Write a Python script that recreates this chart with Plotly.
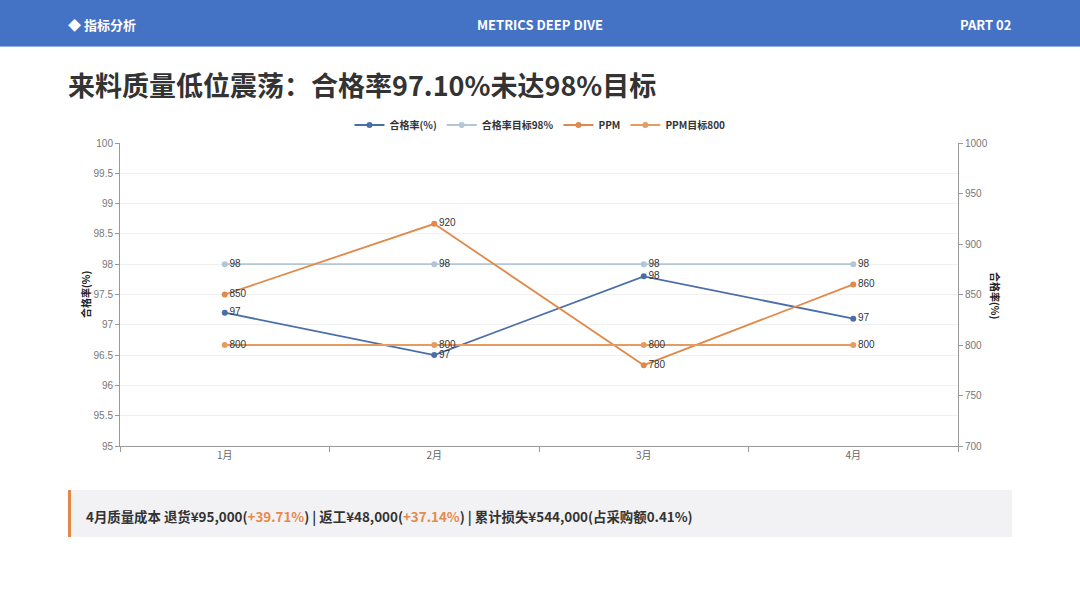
import plotly.graph_objects as go

# chart data
months = ["1月", "2月", "3月", "4月"]
pass_rate = [97.2, 96.5, 97.8, 97.1]
pass_target = [98, 98, 98, 98]
ppm = [850, 920, 780, 860]
ppm_target = [800, 800, 800, 800]

W, H = 1080, 608
FONT = "Noto Sans CJK SC"


def px_x(x):
    return x / W


def px_y(y):
    return 1 - y / H


fig = go.Figure()

series = [
    ("合格率(%)", pass_rate, "y", "#4a6ea8"),
    ("合格率目标98%", pass_target, "y", "#b3c6d6"),
    ("PPM", ppm, "y2", "#e0894a"),
    ("PPM目标800", ppm_target, "y2", "#e69c60"),
]
for name, vals, axis, color in series:
    fig.add_trace(go.Scatter(
        x=months, y=vals, name=name, yaxis=axis,
        mode="lines+markers+text",
        line=dict(color=color, width=1.8),
        marker=dict(color=color, size=6),
        texttemplate="%{y:.0f}", textposition="middle right",
        textfont=dict(size=10, color="#333", family="Liberation Sans"),
        cliponaxis=False,
    ))

fig.update_layout(
    width=W, height=H,
    margin=dict(l=0, r=0, t=0, b=0, pad=0, autoexpand=False),
    paper_bgcolor="white", plot_bgcolor="white",
    font=dict(family=FONT, color="#333"),
    showlegend=True,
    legend=dict(orientation="h", x=0.5, xanchor="center", y=px_y(125), yanchor="middle",
                font=dict(size=10, color="#333", weight="bold"), itemwidth=30,
                tracegroupgap=0),
    xaxis=dict(domain=[px_x(120), px_x(958)], range=[-0.5, 3.5], showgrid=False,
               showline=True, linecolor="#999", ticks="outside", tickson="boundaries",
               ticklen=5, tickcolor="#999",
               tickfont=dict(size=10, color="#666", family=FONT)),
    yaxis=dict(domain=[px_y(446), px_y(143)], range=[95, 100], dtick=0.5,
               showline=True, linecolor="#999", ticks="outside", ticklen=4,
               tickcolor="#999", gridcolor="#f0f0f0", zeroline=False,
               tickfont=dict(size=10, color="#777", family="Liberation Sans")),
    yaxis2=dict(overlaying="y", side="right", range=[700, 1000], dtick=50,
                showline=True, linecolor="#999", ticks="outside", ticklen=4,
                tickcolor="#999", showgrid=False, zeroline=False,
                tickfont=dict(size=10, color="#777", family="Liberation Sans")),
)

# header bar
fig.add_shape(type="rect", xref="paper", yref="paper", x0=0, x1=1,
              y0=px_y(46), y1=1, fillcolor="#4472c4", line_width=0, layer="below")
fig.add_shape(type="line", xref="paper", yref="paper", x0=0, x1=1,
              y0=px_y(46.5), y1=px_y(46.5), line=dict(color="#8fb0e0", width=1))

# bottom note box
fig.add_shape(type="rect", xref="paper", yref="paper", x0=px_x(68), x1=px_x(1012),
              y0=px_y(537), y1=px_y(490), fillcolor="#f2f2f4", line_width=0, layer="below")
fig.add_shape(type="rect", xref="paper", yref="paper", x0=px_x(68), x1=px_x(71),
              y0=px_y(537), y1=px_y(490), fillcolor="#e0894a", line_width=0)

orange = "#e8894a"
note = ("4月质量成本 退货¥95,000(<span style='color:%s'>+39.71%%</span>) | "
        "返工¥48,000(<span style='color:%s'>+37.14%%</span>) | "
        "累计损失¥544,000(占采购额0.41%%)") % (orange, orange)

texts = [
    dict(text="<b>◆ 指标分析</b>", x=px_x(66), y=px_y(24), xanchor="left",
         font=dict(size=13, color="white")),
    dict(text="<b>METRICS DEEP DIVE</b>", x=0.5, y=px_y(24), xanchor="center",
         font=dict(size=13, color="white")),
    dict(text="<b>PART 02</b>", x=px_x(1013), y=px_y(24), xanchor="right",
         font=dict(size=13, color="white")),
    dict(text="<b>来料质量低位震荡：合格率97.10%未达98%目标</b>", x=px_x(66), y=px_y(84),
         xanchor="left", font=dict(size=27, color="#333")),
    dict(text="<b>合格率(%)</b>", x=px_x(85), y=px_y(295), xanchor="center",
         textangle=-90, font=dict(size=10, color="#222")),
    dict(text="<b>合格率(%)</b>", x=px_x(996), y=px_y(295), xanchor="center",
         textangle=90, font=dict(size=10, color="#222")),
    dict(text="<b>" + note + "</b>", x=px_x(84), y=px_y(516), xanchor="left",
         font=dict(size=13.4, color="#333")),
]
for t in texts:
    fig.add_annotation(xref="paper", yref="paper", showarrow=False,
                       yanchor="middle", **t)

# page has no margins so the figure sits at the top-left corner
page_js = "document.body.style.margin = '0';"
fig.write_html("out.html", config={"displayModeBar": False}, post_script=page_js)
